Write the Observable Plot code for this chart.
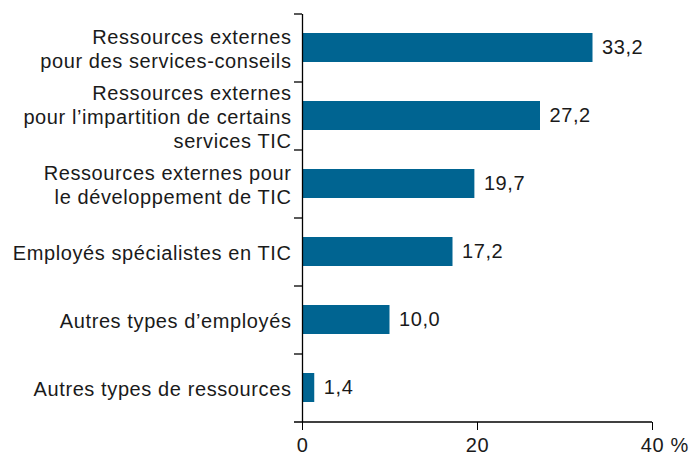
<!DOCTYPE html>
<html>
<head>
<meta charset="utf-8">
<script src="https://cdn.jsdelivr.net/npm/d3@7"></script>
<script src="https://cdn.jsdelivr.net/npm/@observablehq/plot@0.6"></script>
<style>
  html, body { margin: 0; padding: 0; background: #fff; }
  #chart { width: 691px; height: 457px; }
  #chart svg text { letter-spacing: 0.6px; }
</style>
</head>
<body>
<div id="chart"></div>
<script>
const categories = [
  "Ressources externes\npour des services-conseils",
  "Ressources externes\npour l\u2019impartition de certains\nservices TIC",
  "Ressources externes pour\nle d\u00e9veloppement de TIC",
  "Employ\u00e9s sp\u00e9cialistes en TIC",
  "Autres types d\u2019employ\u00e9s",
  "Autres types de ressources"
];
const values = [33.2, 27.2, 19.7, 17.2, 10.0, 1.4];
const xTicks = [0, 20, 40];
const unitLabel = "%";

const data = categories.map((c, i) => ({category: c, value: values[i]}));
const fmt = v => v.toFixed(1).replace(".", ",");
const barColor = "#006491";
const textColor = "#1a1a1a";
const tickLen = 0.914; // ~8px in x units

const plot = Plot.plot({
  width: 691,
  height: 457,
  marginLeft: 302,
  marginRight: 39,
  marginTop: 14,
  marginBottom: 35,
  style: {fontFamily: "'Liberation Sans', Arial, sans-serif", fontSize: "20px", color: textColor, background: "#fff"},
  x: {domain: [0, 40]},
  y: {domain: categories, paddingInner: 0.57, paddingOuter: 0.285},
  marks: [
    Plot.barX(data, {x: "value", y: "category", fill: barColor}),
    Plot.text(data, {x: "value", y: "category", text: d => fmt(d.value), textAnchor: "start", dx: 9, fill: textColor, fontSize: 20}),
    Plot.axisY({tickSize: 0, tickPadding: 11, label: null, lineHeight: 1.2, fontSize: 20, fill: textColor}),
    Plot.ruleX([0], {stroke: "#000", strokeWidth: 1.3}),
    Plot.ruleY(categories, {y: d => d, x1: -tickLen, x2: 0, dy: -34, stroke: "#000", strokeWidth: 1.3}),
    Plot.ruleY([categories[categories.length - 1]], {y: d => d, x1: -tickLen, x2: 40, dy: 34, stroke: "#000", strokeWidth: 1.3}),
    Plot.axisX({ticks: xTicks, tickSize: 8, tickPadding: 7, label: null, fontSize: 20, fill: textColor, stroke: "#000"}),
    Plot.text([40], {x: d => d, frameAnchor: "bottom", lineAnchor: "top", text: () => unitLabel, textAnchor: "start", dx: 18, dy: 15, fontSize: 20, fill: textColor})
  ]
});
document.getElementById("chart").appendChild(plot);
</script>
</body>
</html>
